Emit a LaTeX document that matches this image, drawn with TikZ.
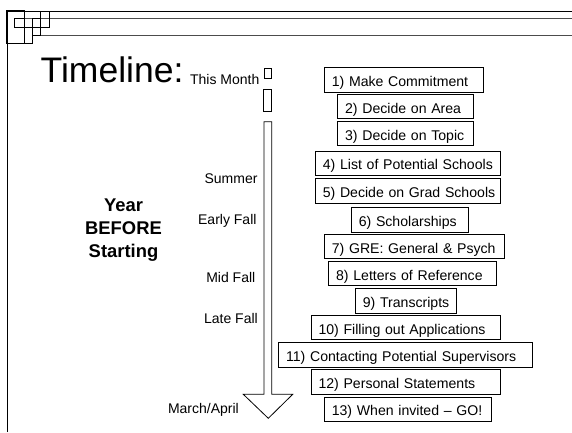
\documentclass[tikz,border=0pt]{standalone}
\usepackage{fontspec}
\setmainfont{Liberation Sans}
\usepackage{tikz}
\usetikzlibrary{arrows}

\tikzset{
  taskbox/.style={draw, line width=1pt, anchor=north west, inner xsep=7.3pt,
    minimum height=24.4pt, text height=13pt, text depth=0pt, align=left,
    font=\fontsize{14.1}{16}\selectfont},
  when/.style={anchor=base east, inner sep=0pt, font=\fontsize{14}{16}\selectfont}
}

\begin{document}
\begin{tikzpicture}[x=1pt,y=-1pt]
       \useasboundingbox (0,0) rectangle (572,432);
       % Draw frame
       \draw [line width=0.8pt] (7,432) -- (7,11) -- (572,11);
       \draw [line width=1pt,black!70] (14,18.3) -- (572,18.3);
       \draw [line width=1pt,black!70] (32,35) -- (572,35);
       \draw [line width=1.2pt] (7,11) rectangle (24.3,43.3);
       \draw [line width=0.8pt] (14,18.3) rectangle (24.3,27.3);
       \draw [line width=0.8pt] (24.3,27.3) rectangle (32.3,43.3);
       \draw [line width=0.8pt] (32.3,18.3) rectangle (40.7,35);
       \draw [line width=0.8pt] (40.7,11) rectangle (49.3,27.3);
       \draw [line width=0.8pt] (24.3,27.3) -- (49.3,27.3);

       % Title and side labels
       \node [anchor=base west, inner sep=0pt, font=\fontsize{35.5}{40}\selectfont] (title) at (40.5,82.7) {Timeline:};
       \node [align=center, font=\bfseries\fontsize{18.4}{23}\selectfont] (year) at (123.5,230.5) {Year\\BEFORE\\Starting};

       \node [when] (month) at (259.5,84.3) {This Month};
       \node [when] (summer) at (257.7,183.3) {Summer};
       \node [when] (early) at (256.7,224) {Early Fall};
       \node [when] (mid) at (255.5,282.7) {Mid Fall};
       \node [when] (late) at (258,323) {Late Fall};
       \node [when] (march) at (239,413) {March/April};

       % Draw the time arrow
       \draw [line width=0.8pt] (264.3,68.3) rectangle (271,78.3);
       \draw [line width=0.8pt] (263.3,89.3) rectangle (271,111);
       \draw [line width=0.8pt] (264,121.7) -- (264,394.3) -- (243.3,394.3) -- (268.3,418.3)
             -- (292.7,394.3) -- (271.7,394.3) -- (271.7,121.7) -- cycle;

       % Steps
       \node [taskbox, text width=144.1pt] (t1) at (324,67.3) {\mbox{1) Make Commitment}};
       \node [taskbox, text width=121.4pt] (t2) at (337.3,94) {\mbox{2) Decide on Area}};
       \node [taskbox, text width=121.4pt] (t3) at (337.3,121) {\mbox{3) Decide on Topic}};
       \node [taskbox, text width=170.4pt] (t4) at (315,150.7) {\mbox{4) List of Potential Schools}};
       \node [taskbox, text width=170.4pt] (t5) at (315,178.3) {\mbox{5) Decide on Grad Schools}};
       \node [taskbox, text width=102.7pt] (t6) at (351,207.3) {\mbox{6) Scholarships}};
       \node [taskbox, text width=165.7pt] (t7) at (324,234) {\mbox{7) GRE: General \& Psych}};
       \node [taskbox, text width=153.1pt] (t8) at (328.3,261) {\mbox{8) Letters of Reference}};
       \node [taskbox, text width=86.4pt] (t9) at (355,288.3) {\mbox{9) Transcripts}};
       \node [taskbox, text width=174.7pt] (t10) at (310.7,315) {\mbox{10) Filling out Applications}};
       \node [taskbox, text width=238.8pt] (t11) at (278.3,342.3) {\mbox{11) Contacting Potential Supervisors}};
       \node [taskbox, text width=174.7pt] (t12) at (310.7,369.3) {\mbox{12) Personal Statements}};
       \node [taskbox, text width=152.4pt] (t13) at (324,396.7) {\mbox{13) When invited -- GO!}};
\end{tikzpicture}
\end{document}
